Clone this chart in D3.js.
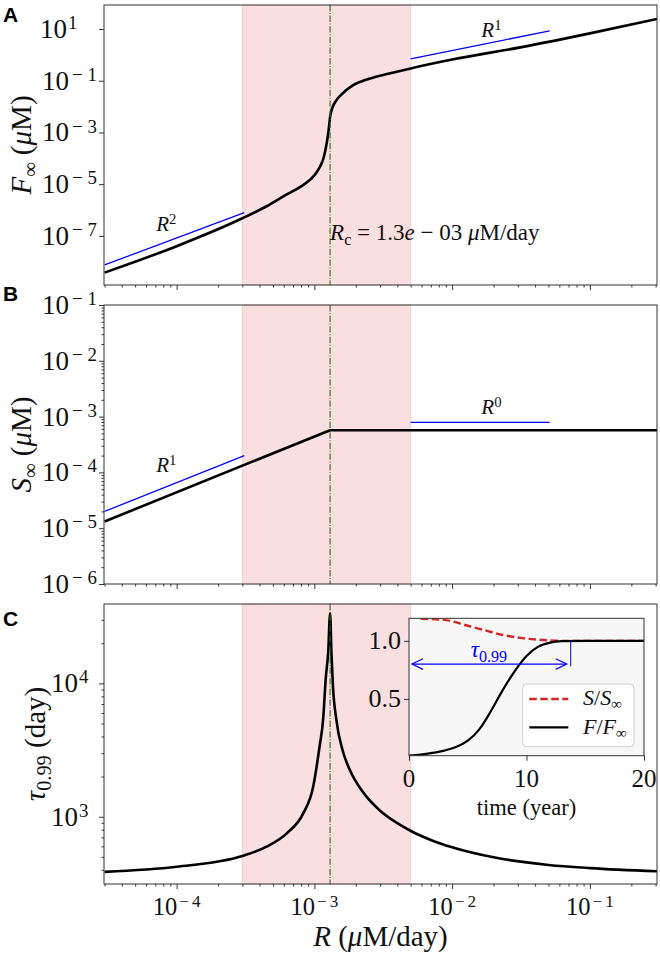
<!DOCTYPE html>
<html>
<head>
<meta charset="utf-8">
<script src="https://cdn.jsdelivr.net/npm/d3@7"></script>
<style>
  body { margin: 0; background: #fff; }
  text { font-family: "Liberation Serif", "Times New Roman", serif; fill: #111; }
</style>
</head>
<body>
<svg id="chart" width="660" height="956"></svg>
<script>
// ---- data ----
const rangeR = [2.97e-5, 0.307];          // uM/day
const bandR = [3.0e-4, 5.0e-3];            // shaded band
const Rc = 1.3e-3;

// panel A: F_inf vs R
const fR   = [3.0e-5, 1.0e-4, 3.0e-4, 4.5e-4, 6.3e-4, 7.9e-4, 1.0e-3, 1.1e-3, 1.17e-3, 1.23e-3, 1.27e-3, 1.30e-3, 1.35e-3, 1.45e-3, 1.58e-3, 1.9e-3, 2.5e-3, 3.5e-3, 5.0e-3, 1.0e-2, 3.2e-2, 0.1, 0.307];
const fInf = [3.8e-9, 4.0e-8, 4.8e-7, 1.4e-6, 4.0e-6, 7.9e-6, 2.2e-5, 4.8e-5, 1.1e-4, 4.0e-4, 1.26e-3, 4.0e-3, 8.9e-3, 1.8e-2, 3.0e-2, 6.6e-2, 0.12, 0.19, 0.30, 0.66, 2.0, 6.8, 24.5];

// panel B: S_inf vs R
const sR   = [3.0e-5, 1.3e-3, 0.307];
const sInf = [1.32e-5, 5.7e-4, 5.7e-4];

// panel C: tau_0.99 vs R
const tauR = [3.0e-5, 1.0e-4, 3.0e-4, 4.5e-4, 6.3e-4, 8.3e-4, 9.8e-4, 1.09e-3, 1.156e-3, 1.21e-3, 1.26e-3, 1.3e-3, 1.33e-3, 1.365e-3, 1.445e-3, 1.61e-3, 1.8e-3, 2.25e-3, 3.0e-3, 4.0e-3, 5.1e-3, 7.0e-3, 1.0e-2, 2.0e-2, 5.0e-2, 0.1, 0.307];
const tau  = [386, 422, 507, 596, 750, 1060, 1680, 3350, 5300, 11000, 17200, 33500, 16700, 9400, 5300, 3100, 2270, 1530, 1110, 895, 775, 670, 590, 496, 435, 412, 390];

// power-law guides (blue)
const guideA2 = { R: [3.0e-5, 3.1e-4], v: [7.5e-9, 8.0e-7], lab: [7.1e-5, 1.5e-7], exp: '2' };
const guideA1 = { R: [5.0e-3, 5.1e-2], v: [0.7, 8.5], lab: [1.63e-2, 5.0], exp: '1' };
const guideB1 = { R: [3.0e-5, 3.1e-4], v: [2.0e-5, 2.0e-4], lab: [7.1e-5, 1.0e-4], exp: '1' };
const guideB0 = { R: [5.0e-3, 5.1e-2], v: [7.9e-4, 7.9e-4], lab: [1.63e-2, 1.1e-3], exp: '0' };

// inset: time courses
const insetT = [0, 1, 2, 3, 4, 5, 6, 7, 8, 9, 10, 11, 12, 13, 15, 20];
const insetF = [0.012, 0.02, 0.035, 0.055, 0.085, 0.14, 0.24, 0.40, 0.58, 0.74, 0.87, 0.95, 0.985, 0.997, 1.0, 1.0];
const insetTS = [1, 3, 5, 6.5, 8, 9.5, 11, 13, 20];
const insetS  = [1.19, 1.18, 1.13, 1.09, 1.05, 1.025, 1.01, 1.0, 1.0];
const tau99 = 13.76;
const arrowLevel = 0.8;

// ---- layout ----
const svg = d3.select('#chart');
const plotL = 104, plotR = 657;
const axisColor = '#333';
const pink = '#d62728';

const x = d3.scaleLog().domain(rangeR).range([plotL, plotR]);

const panels = [
  { key: 'A', top: 5, bottom: 285, y: d3.scaleLog().domain([1.26e-9, 85]),
    yMajor: [10, 0.1, 1e-3, 1e-5, 1e-7], yMinor: [], posLab: { anchor: 'start', x: 40 },
    curve: d3.curveMonotoneX,
    label: [{ t: 'F', it: 1 }, { t: '∞', sub: 1 }, { t: ' (' }, { t: 'μ', it: 1 }, { t: 'M)' }], labelX: 31 },
  { key: 'B', top: 305, bottom: 584, y: d3.scaleLog().domain([1e-6, 0.1]),
    yMajor: [1e-1, 1e-2, 1e-3, 1e-4, 1e-5, 1e-6], yMinor: minorTicks(-6, -2), posLab: null,
    curve: d3.curveLinear,
    label: [{ t: 'S', it: 1 }, { t: '∞', sub: 1 }, { t: ' (' }, { t: 'μ', it: 1 }, { t: 'M)' }], labelX: 31 },
  { key: 'C', top: 604, bottom: 884, y: d3.scaleLog().domain([313, 39400]),
    yMajor: [1e3, 1e4], yMinor: minorTicks(2, 4), posLab: { anchor: 'end', x: 88.5 },
    curve: d3.curveMonotoneX,
    label: [{ t: 'τ', it: 1 }, { t: '0.99', sub: 1 }, { t: ' (day)' }], labelX: 45 }
];
panels.forEach(p => p.y.range([p.bottom, p.top]));

function minorTicks(e0, e1) {
  const out = [];
  for (let e = e0; e <= e1; e++) for (let k = 2; k <= 9; k++) out.push(k * Math.pow(10, e));
  return out;
}
const xMajor = [1e-4, 1e-3, 1e-2, 1e-1];
const xMinor = minorTicks(-5, -1).filter(v => v >= rangeR[0] && v <= rangeR[1]);

// text with sub/superscripts
function rich(g, segs, size) {
  const t = g.append('text').attr('font-size', size);
  let shift = 0;
  segs.forEach(s => {
    const target = s.sup ? -0.33 * size : s.sub ? 0.2 * size : 0;
    t.append('tspan')
      .text(s.t)
      .attr('dy', target - shift)
      .attr('dx', s.dx || null)
      .attr('font-size', (s.sup || s.sub) ? size * 0.7 : size)
      .attr('font-style', s.it ? 'italic' : null);
    shift = target;
  });
  return t;
}
function pow10Segs(v, gapMinus, gapDigit) {
  const e = Math.round(Math.log10(v));
  if (e < 0) return [{ t: '10' }, { t: '−', sup: 1, dx: gapMinus }, { t: String(-e), sup: 1, dx: gapDigit }];
  return [{ t: '10' }, { t: String(e), sup: 1, dx: 1 }];
}

const defs = svg.append('defs');

panels.forEach((p, i) => {
  const y = p.y;
  const g = svg.append('g').attr('class', 'panel-' + p.key);
  const clipId = 'clip' + p.key;
  defs.append('clipPath').attr('id', clipId)
    .append('rect').attr('x', plotL).attr('y', p.top)
    .attr('width', plotR - plotL).attr('height', p.bottom - p.top);

  // shaded band
  g.append('rect')
    .attr('x', x(bandR[0])).attr('y', p.top)
    .attr('width', x(bandR[1]) - x(bandR[0])).attr('height', p.bottom - p.top)
    .attr('fill', pink).attr('fill-opacity', 0.15)
    .attr('stroke', pink).attr('stroke-opacity', 0.15);

  const plot = g.append('g').attr('clip-path', `url(#${clipId})`);
  const line = d3.line().x(d => x(d[0])).y(d => y(d[1])).curve(p.curve);

  let guides = [], pts;
  if (p.key === 'A') { pts = d3.zip(fR, fInf); guides = [guideA2, guideA1]; }
  if (p.key === 'B') { pts = d3.zip(sR, sInf); guides = [guideB1, guideB0]; }
  if (p.key === 'C') { pts = d3.zip(tauR, tau); }

  guides.forEach(gd => {
    plot.append('path')
      .datum(d3.zip(gd.R, gd.v))
      .attr('d', d3.line().x(d => x(d[0])).y(d => y(d[1])))
      .attr('fill', 'none').attr('stroke', '#0000ff').attr('stroke-width', 1.3);
    rich(g, [{ t: 'R', it: 1 }, { t: gd.exp, sup: 1 }], 21)
      .attr('x', x(gd.lab[0])).attr('y', y(gd.lab[1]));
  });

  plot.append('path')
    .datum(pts)
    .attr('d', line)
    .attr('fill', 'none').attr('stroke', '#000').attr('stroke-width', 2.6)
    .attr('stroke-linejoin', 'round');

  // critical rate marker
  g.append('line')
    .attr('x1', x(Rc)).attr('x2', x(Rc)).attr('y1', p.top).attr('y2', p.bottom)
    .attr('stroke', '#2f6b1f').attr('stroke-width', 1.1)
    .attr('stroke-dasharray', '6.4,1.6,1,1.6');

  // frame
  g.append('rect')
    .attr('x', plotL).attr('y', p.top)
    .attr('width', plotR - plotL).attr('height', p.bottom - p.top)
    .attr('fill', 'none').attr('stroke', axisColor).attr('stroke-width', 1);

  // x ticks
  const xAxisMajor = d3.axisBottom(x).tickValues(xMajor).tickSize(5).tickFormat('');
  const xAxisMinor = d3.axisBottom(x).tickValues(xMinor).tickSize(2.5).tickFormat('');
  [xAxisMajor, xAxisMinor].forEach(ax => {
    const a = g.append('g').attr('transform', `translate(0,${p.bottom})`).call(ax);
    a.select('.domain').remove();
    a.selectAll('line').attr('stroke', axisColor);
  });

  // y ticks
  const yAxisMajor = d3.axisLeft(y).tickValues(p.yMajor).tickSize(5).tickFormat('');
  const yAxisMinor = d3.axisLeft(y).tickValues(p.yMinor.filter(v => v > y.domain()[0] && v < y.domain()[1])).tickSize(2.5).tickFormat('');
  [yAxisMajor, yAxisMinor].forEach(ax => {
    const a = g.append('g').attr('transform', `translate(${plotL},0)`).call(ax);
    a.select('.domain').remove();
    a.selectAll('line').attr('stroke', axisColor);
  });
  p.yMajor.forEach(v => {
    const pos = v >= 1 && p.posLab;
    rich(g, pow10Segs(v, 3, 5), 27)
      .attr('x', pos ? p.posLab.x : 97).attr('y', y(v) + 9)
      .attr('text-anchor', pos ? p.posLab.anchor : 'end');
  });

  // y label
  rich(g, p.label, 29)
    .attr('text-anchor', 'middle')
    .attr('transform', `translate(${p.labelX},${(p.top + p.bottom) / 2}) rotate(-90)`);

  // panel letter
  g.append('text')
    .attr('x', 3).attr('y', p.top + [17, -4, 22][i])
    .style('font-family', '"Liberation Sans", Arial, Helvetica, sans-serif')
    .attr('font-weight', 'bold').attr('font-size', 21)
    .style('fill', '#000')
    .text(p.key);

  if (p.key === 'C') {
    xMajor.forEach(v => {
      rich(g, pow10Segs(v, 2, 3), 24.5)
        .attr('x', x(v)).attr('y', p.bottom + 31).attr('text-anchor', 'middle');
    });
    rich(g, [{ t: 'R', it: 1 }, { t: ' (' }, { t: 'μ', it: 1 }, { t: 'M/day)' }], 29)
      .attr('x', (plotL + plotR) / 2).attr('y', 946).attr('text-anchor', 'middle');
  }
  if (p.key === 'A') {
    rich(g, [{ t: 'R', it: 1 }, { t: 'c', sub: 1 }, { t: ' = 1.3' }, { t: 'e', it: 1 }, { t: ' − 03 ' }, { t: 'μ', it: 1 }, { t: 'M/day' }], 23)
      .attr('x', x(Rc)).attr('y', 240);
  }
});

// ---- inset in panel C ----
const inset = { left: 409, right: 644, top: 618.3, bottom: 755.7 };
const xi = d3.scaleLinear().domain([0, 20]).range([inset.left, inset.right]);
const yi = d3.scaleLinear().domain([0.011, 1.194]).range([inset.bottom, inset.top]);
const gi = svg.append('g').attr('class', 'inset');
defs.append('clipPath').attr('id', 'clipInset')
  .append('rect').attr('x', inset.left).attr('y', inset.top)
  .attr('width', inset.right - inset.left).attr('height', inset.bottom - inset.top);

gi.append('rect')
  .attr('x', inset.left).attr('y', inset.top)
  .attr('width', inset.right - inset.left).attr('height', inset.bottom - inset.top)
  .attr('fill', '#f7f7f7');

const ip = gi.append('g').attr('clip-path', 'url(#clipInset)');
const iline = d3.line().x(d => xi(d[0])).y(d => yi(d[1])).curve(d3.curveMonotoneX);
ip.append('path').datum(d3.zip(insetTS, insetS)).attr('d', iline)
  .attr('fill', 'none').attr('stroke', '#d62728').attr('stroke-width', 2.4)
  .attr('stroke-dasharray', '7.5,3.5');
ip.append('path').datum(d3.zip(insetT, insetF)).attr('d', iline)
  .attr('fill', 'none').attr('stroke', '#000').attr('stroke-width', 2.2);

// tau_0.99 arrow
const blue = '#0000ff';
const ay = yi(arrowLevel), ax0 = xi(0) + 3, ax1 = xi(tau99) - 4;
gi.append('line').attr('x1', ax0).attr('x2', ax1).attr('y1', ay).attr('y2', ay)
  .attr('stroke', blue).attr('stroke-width', 1.2);
gi.append('path')
  .attr('d', `M${ax0 + 11},${ay - 5.3}L${ax0},${ay}L${ax0 + 11},${ay + 5.3}M${ax1 - 11},${ay - 5.3}L${ax1},${ay}L${ax1 - 11},${ay + 5.3}`)
  .attr('fill', 'none').attr('stroke', blue).attr('stroke-width', 1.2);
gi.append('line').attr('x1', xi(tau99)).attr('x2', xi(tau99))
  .attr('y1', yi(1.0)).attr('y2', yi(0.78))
  .attr('stroke', blue).attr('stroke-width', 1);
rich(gi, [{ t: 'τ', it: 1 }, { t: '0.99', sub: 1 }], 23)
  .attr('x', xi(6.8)).attr('y', yi(arrowLevel) - 7).attr('text-anchor', 'middle')
  .selectAll('tspan').style('fill', blue);

// legend
const lg = gi.append('g');
lg.append('rect').attr('x', 522.7).attr('y', 684).attr('width', 111.3).attr('height', 62.7)
  .attr('rx', 4).attr('fill', '#fff').attr('fill-opacity', 0.8)
  .attr('stroke', '#d0d0d0').attr('stroke-width', 1);
lg.append('line').attr('x1', 529.3).attr('x2', 568.3).attr('y1', 699).attr('y2', 699)
  .attr('stroke', '#d62728').attr('stroke-width', 2.4).attr('stroke-dasharray', '7.5,3.5');
lg.append('line').attr('x1', 529.3).attr('x2', 568.3).attr('y1', 727.3).attr('y2', 727.3)
  .attr('stroke', '#000').attr('stroke-width', 2.2);
rich(lg, [{ t: 'S', it: 1 }, { t: '/' }, { t: 'S', it: 1 }, { t: '∞', sub: 1 }], 22).attr('x', 583).attr('y', 705);
rich(lg, [{ t: 'F', it: 1 }, { t: '/' }, { t: 'F', it: 1 }, { t: '∞', sub: 1 }], 22).attr('x', 583).attr('y', 733.5);

gi.append('rect')
  .attr('x', inset.left).attr('y', inset.top)
  .attr('width', inset.right - inset.left).attr('height', inset.bottom - inset.top)
  .attr('fill', 'none').attr('stroke', axisColor).attr('stroke-width', 1);

const ixAxis = gi.append('g').attr('transform', `translate(0,${inset.bottom})`)
  .call(d3.axisBottom(xi).tickValues([0, 10, 20]).tickSize(5).tickFormat(''));
const iyAxis = gi.append('g').attr('transform', `translate(${inset.left},0)`)
  .call(d3.axisLeft(yi).tickValues([0.5, 1.0]).tickSize(5).tickFormat(''));
[ixAxis, iyAxis].forEach(a => { a.select('.domain').remove(); a.selectAll('line').attr('stroke', axisColor); });
[0, 10, 20].forEach(v => {
  gi.append('text').attr('x', xi(v)).attr('y', 786.5).attr('text-anchor', 'middle')
    .attr('font-size', 25).text(v);
});
[0.5, 1.0].forEach(v => {
  gi.append('text').attr('x', 401).attr('y', yi(v) + 8.5).attr('text-anchor', 'end')
    .attr('font-size', 26).text(v.toFixed(1));
});
gi.append('text').attr('x', xi(10)).attr('y', 815).attr('text-anchor', 'middle')
  .attr('font-size', 22.5).text('time (year)');
</script>
</body>
</html>
